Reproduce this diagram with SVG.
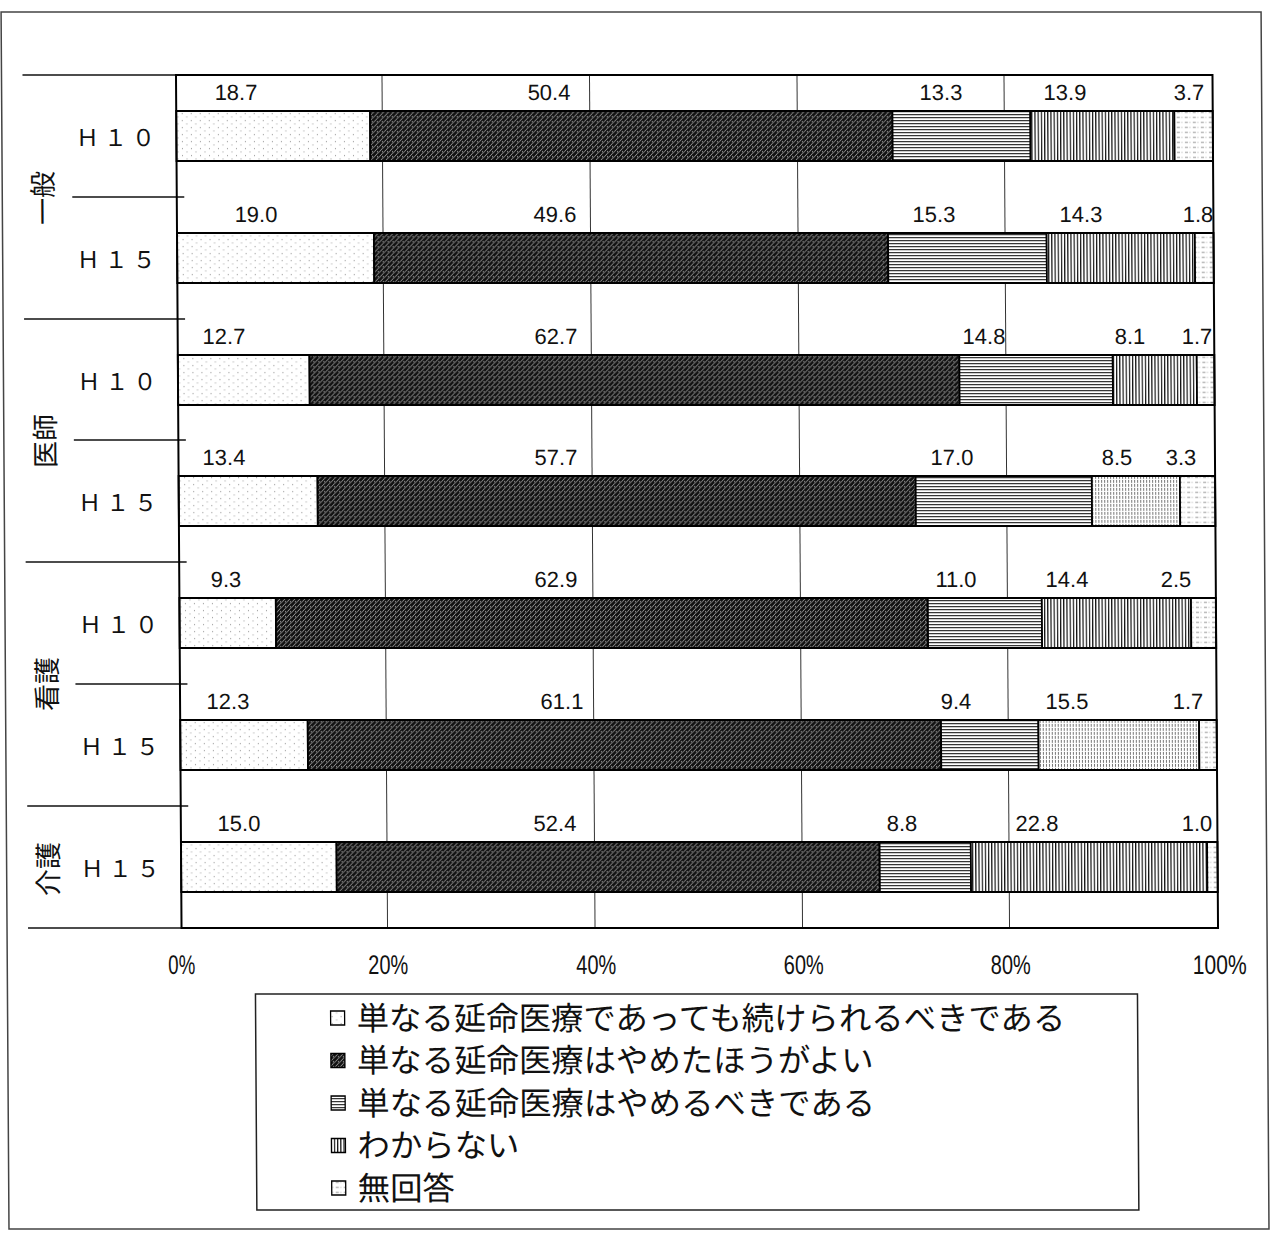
<svg xmlns="http://www.w3.org/2000/svg" width="1271" height="1236" viewBox="0 0 1271 1236">
<style>
.num{font-family:"Liberation Sans","Noto Sans CJK JP",sans-serif;font-size:22px;fill:#111;text-anchor:middle}
.ax{font-family:"Liberation Sans","Noto Sans CJK JP",sans-serif;font-size:27px;fill:#111;text-anchor:middle}
.sub{font-family:"Noto Sans CJK JP","Liberation Sans",sans-serif;font-size:23px;fill:#111;letter-spacing:5px}
.cat{font-family:"Noto Sans CJK JP",sans-serif;font-size:27px;fill:#111;text-anchor:middle;dominant-baseline:central}
.leg{font-family:"Noto Sans CJK JP",sans-serif;font-size:32.4px;fill:#111}
.seg{stroke:#000;stroke-width:1.8}
.grid{stroke:#333;stroke-width:1}
.ln{stroke:#111;stroke-width:1.6}
.mk{stroke:#000;stroke-width:1.3}
</style>
<defs>
<pattern id="pDot" width="9" height="7" patternUnits="userSpaceOnUse"><rect width="9" height="7" fill="#fff"/><rect x="1" y="1" width="1" height="1" fill="#888"/><rect x="5.5" y="4.5" width="1" height="1" fill="#999"/></pattern>
<pattern id="pDark" width="5" height="5" patternUnits="userSpaceOnUse"><rect width="5" height="5" fill="#111"/><path d="M0 5L5 0M-1 1L1 -1M4 6L6 4" stroke="#eee" stroke-width="0.6"/><rect x="1" y="1" width="1" height="1" fill="#bbb"/></pattern>
<pattern id="pH" width="4" height="3" patternUnits="userSpaceOnUse"><rect width="4" height="3" fill="#fff"/><rect width="4" height="1.1" fill="#222"/></pattern>
<pattern id="pV" width="3.2" height="4" patternUnits="userSpaceOnUse"><rect width="3.2" height="4" fill="#fff"/><rect width="1.2" height="4" fill="#111"/></pattern>
<pattern id="pVL" width="3" height="4" patternUnits="userSpaceOnUse"><rect width="3" height="4" fill="#fff"/><rect width="1" height="3" fill="#777"/></pattern>
<pattern id="pNA" width="8" height="5" patternUnits="userSpaceOnUse"><rect width="8" height="5" fill="#fff"/><rect x="0" y="2" width="3" height="0.8" fill="#777"/><rect x="4.5" y="2" width="1" height="0.8" fill="#999"/></pattern>
</defs>
<g id="page" transform="matrix(1 0 0.0065 1 0 0)">
<rect id="frame" x="1" y="12" width="1260" height="1217" fill="#fff" stroke="#444" stroke-width="1.5"/>

<g id="grid">
<line class="grid" x1="381.5" y1="75" x2="381.5" y2="928"/>
<line class="grid" x1="589" y1="75" x2="589" y2="928"/>
<line class="grid" x1="796.5" y1="75" x2="796.5" y2="928"/>
<line class="grid" x1="1003.5" y1="75" x2="1003.5" y2="928"/>
</g>

<g id="connectors">
<line class="ln" x1="22" y1="75" x2="175.5" y2="75"/>
<line class="ln" x1="71" y1="197" x2="183" y2="197"/>
<line class="ln" x1="22" y1="319" x2="183" y2="319"/>
<line class="ln" x1="71" y1="440" x2="183" y2="440"/>
<line class="ln" x1="22" y1="562" x2="183" y2="562"/>
<line class="ln" x1="71" y1="684" x2="183" y2="684"/>
<line class="ln" x1="22" y1="806" x2="183" y2="806"/>
<line class="ln" x1="22" y1="928" x2="175.5" y2="928"/>
</g>

<g id="row1">
<rect class="seg" x="175.5" y="111" width="193.8" height="50" fill="url(#pDot)"/>
<rect class="seg" x="369.3" y="111" width="522.4" height="50" fill="url(#pDark)"/>
<rect class="seg" x="891.7" y="111" width="137.9" height="50" fill="url(#pH)"/>
<rect class="seg" x="1029.6" y="111" width="144" height="50" fill="url(#pV)"/>
<rect class="seg" x="1173.6" y="111" width="38.4" height="50" fill="url(#pNA)"/>
<text class="num" x="235.4" y="100">18.7</text>
<text class="num" x="548.4" y="100">50.4</text>
<text class="num" x="940.4" y="100">13.3</text>
<text class="num" x="1064.4" y="100">13.9</text>
<text class="num" x="1188.4" y="100">3.7</text>
</g>

<g id="row2">
<rect class="seg" x="175.5" y="233" width="196.9" height="50" fill="url(#pDot)"/>
<rect class="seg" x="372.4" y="233" width="514.1" height="50" fill="url(#pDark)"/>
<rect class="seg" x="886.5" y="233" width="158.6" height="50" fill="url(#pH)"/>
<rect class="seg" x="1045.1" y="233" width="148.2" height="50" fill="url(#pV)"/>
<rect class="seg" x="1193.3" y="233" width="18.7" height="50" fill="url(#pNA)"/>
<text class="num" x="254.6" y="222">19.0</text>
<text class="num" x="553.6" y="222">49.6</text>
<text class="num" x="932.6" y="222">15.3</text>
<text class="num" x="1079.6" y="222">14.3</text>
<text class="num" x="1196.6" y="222">1.8</text>
</g>

<g id="row3">
<rect class="seg" x="175.5" y="355" width="131.6" height="50" fill="url(#pDot)"/>
<rect class="seg" x="307.1" y="355" width="649.9" height="50" fill="url(#pDark)"/>
<rect class="seg" x="957" y="355" width="153.4" height="50" fill="url(#pH)"/>
<rect class="seg" x="1110.4" y="355" width="84" height="50" fill="url(#pV)"/>
<rect class="seg" x="1194.4" y="355" width="17.6" height="50" fill="url(#pNA)"/>
<text class="num" x="221.8" y="344">12.7</text>
<text class="num" x="553.8" y="344">62.7</text>
<text class="num" x="981.8" y="344">14.8</text>
<text class="num" x="1127.8" y="344">8.1</text>
<text class="num" x="1194.8" y="344">1.7</text>
</g>

<g id="row4">
<rect class="seg" x="175.5" y="476" width="138.9" height="50" fill="url(#pDot)"/>
<rect class="seg" x="314.4" y="476" width="598.1" height="50" fill="url(#pDark)"/>
<rect class="seg" x="912.5" y="476" width="176.2" height="50" fill="url(#pH)"/>
<rect class="seg" x="1088.7" y="476" width="88.1" height="50" fill="url(#pVL)"/>
<rect class="seg" x="1176.8" y="476" width="35.2" height="50" fill="url(#pNA)"/>
<text class="num" x="221" y="465">13.4</text>
<text class="num" x="553" y="465">57.7</text>
<text class="num" x="949" y="465">17.0</text>
<text class="num" x="1114" y="465">8.5</text>
<text class="num" x="1178" y="465">3.3</text>
</g>

<g id="row5">
<rect class="seg" x="175.5" y="598" width="96.4" height="50" fill="url(#pDot)"/>
<rect class="seg" x="271.9" y="598" width="652" height="50" fill="url(#pDark)"/>
<rect class="seg" x="923.9" y="598" width="114" height="50" fill="url(#pH)"/>
<rect class="seg" x="1037.9" y="598" width="149.2" height="50" fill="url(#pV)"/>
<rect class="seg" x="1187.1" y="598" width="24.9" height="50" fill="url(#pNA)"/>
<text class="num" x="222.2" y="587">9.3</text>
<text class="num" x="552.2" y="587">62.9</text>
<text class="num" x="952.2" y="587">11.0</text>
<text class="num" x="1063.2" y="587">14.4</text>
<text class="num" x="1172.2" y="587">2.5</text>
</g>

<g id="row6">
<rect class="seg" x="175.5" y="720" width="127.5" height="50" fill="url(#pDot)"/>
<rect class="seg" x="303" y="720" width="633.3" height="50" fill="url(#pDark)"/>
<rect class="seg" x="936.3" y="720" width="97.4" height="50" fill="url(#pH)"/>
<rect class="seg" x="1033.7" y="720" width="160.7" height="50" fill="url(#pVL)"/>
<rect class="seg" x="1194.4" y="720" width="17.6" height="50" fill="url(#pNA)"/>
<text class="num" x="223.4" y="709">12.3</text>
<text class="num" x="557.4" y="709">61.1</text>
<text class="num" x="951.4" y="709">9.4</text>
<text class="num" x="1062.4" y="709">15.5</text>
<text class="num" x="1183.4" y="709">1.7</text>
</g>

<g id="row7">
<rect class="seg" x="175.5" y="842" width="155.5" height="50" fill="url(#pDot)"/>
<rect class="seg" x="331" y="842" width="543.1" height="50" fill="url(#pDark)"/>
<rect class="seg" x="874.1" y="842" width="91.2" height="50" fill="url(#pH)"/>
<rect class="seg" x="965.3" y="842" width="236.3" height="50" fill="url(#pV)"/>
<rect class="seg" x="1201.6" y="842" width="10.4" height="50" fill="url(#pNA)"/>
<text class="num" x="233.6" y="831">15.0</text>
<text class="num" x="549.6" y="831">52.4</text>
<text class="num" x="896.6" y="831">8.8</text>
<text class="num" x="1031.6" y="831">22.8</text>
<text class="num" x="1191.6" y="831">1.0</text>
</g>

<rect id="plot-border" x="175.5" y="75" width="1036.5" height="853" fill="none" stroke="#000" stroke-width="2"/>

<g id="category-labels">
<text class="sub" x="75" y="146">Ｈ１０</text>
<text class="sub" x="75" y="268">Ｈ１５</text>
<text class="sub" x="75" y="390">Ｈ１０</text>
<text class="sub" x="75" y="511">Ｈ１５</text>
<text class="sub" x="75" y="633">Ｈ１０</text>
<text class="sub" x="75" y="755">Ｈ１５</text>
<text class="sub" x="75" y="877">Ｈ１５</text>
<text class="cat" transform="translate(40 198) rotate(-90)">一般</text>
<text class="cat" transform="translate(41 441) rotate(-90)">医師</text>
<text class="cat" transform="translate(41 684) rotate(-90)">看護</text>
<text class="cat" transform="translate(41 869) rotate(-90)">介護</text>
</g>

<g id="axis-labels">
<text class="ax" x="175.5" y="974" textLength="27" lengthAdjust="spacingAndGlyphs">0%</text>
<text class="ax" x="382" y="974" textLength="40" lengthAdjust="spacingAndGlyphs">20%</text>
<text class="ax" x="590" y="974" textLength="40" lengthAdjust="spacingAndGlyphs">40%</text>
<text class="ax" x="797.5" y="974" textLength="40" lengthAdjust="spacingAndGlyphs">60%</text>
<text class="ax" x="1004.5" y="974" textLength="40" lengthAdjust="spacingAndGlyphs">80%</text>
<text class="ax" x="1213.5" y="974" textLength="54" lengthAdjust="spacingAndGlyphs">100%</text>
</g>

<g id="legend">
<rect x="249" y="994" width="882" height="216" fill="#fff" stroke="#222" stroke-width="1.5"/>
<rect class="mk" x="324" y="1011" width="14" height="14" fill="url(#pDot)"/>
<rect class="mk" x="324" y="1053.5" width="14" height="14" fill="url(#pDark)"/>
<rect class="mk" x="324" y="1096" width="14" height="14" fill="url(#pH)"/>
<rect class="mk" x="324" y="1138.5" width="14" height="14" fill="url(#pV)"/>
<rect class="mk" x="324" y="1181" width="14" height="14" fill="url(#pNA)"/>
<text class="leg" x="350" y="1030">単なる延命医療であっても続けられるべきである</text>
<text class="leg" x="350" y="1072.5">単なる延命医療はやめたほうがよい</text>
<text class="leg" x="350" y="1115">単なる延命医療はやめるべきである</text>
<text class="leg" x="350" y="1157.5">わからない</text>
<text class="leg" x="350" y="1200">無回答</text>
</g>
</g>
</svg>
